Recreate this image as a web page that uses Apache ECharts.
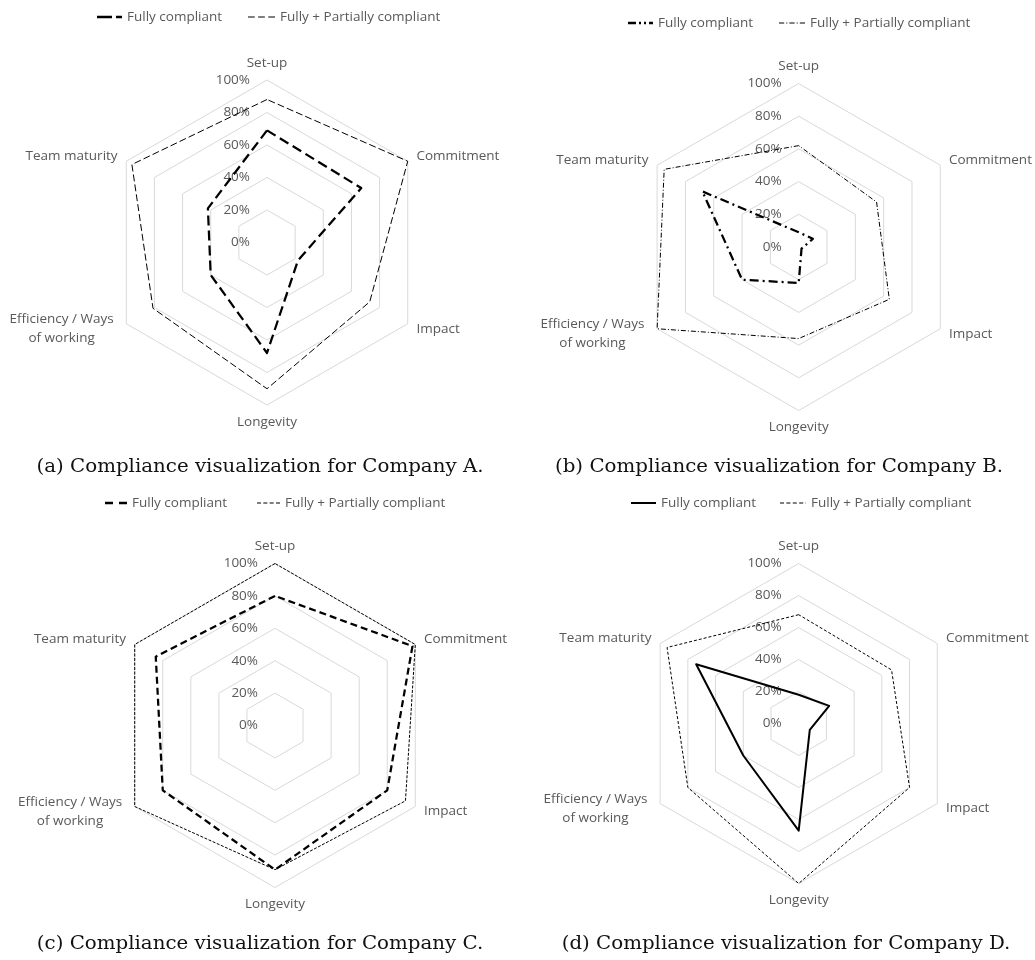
<!DOCTYPE html>
<html>
<head>
<meta charset="utf-8">
<script src="https://cdn.jsdelivr.net/npm/echarts@6/dist/echarts.min.js"></script>
<style>
  html, body { margin: 0; padding: 0; background: #fff; }
  #chart { width: 1035px; height: 960px; }
</style>
</head>
<body>
<div id="chart"></div>
<script>
// Dimensions, listed clockwise from the top
const categories = ['Set-up', 'Commitment', 'Impact', 'Longevity', 'Efficiency / Ways\nof working', 'Team maturity'];
const seriesNames = ['Fully compliant', 'Fully + Partially compliant'];
const scaleMax = 100;
const tickCount = 5; // 0%, 20%, ... 100%

// Compliance shares (%) per company
const companyA_full    = [69, 67, 22, 68, 40, 42];
const companyA_partial = [88, 100, 73, 90, 81, 96];
const companyB_full    = [9, 10, 2, 22, 40, 68];
const companyB_partial = [62, 55, 64, 56, 100, 95];
const companyC_full    = [80, 98, 80, 89, 80, 85];
const companyC_partial = [100, 100, 93, 89, 100, 100];
const companyD_full    = [18, 22, 8, 67, 40, 74];
const companyD_partial = [68, 67, 80, 100, 80, 95];

const captions = [
  '(a) Compliance visualization for Company A.',
  '(b) Compliance visualization for Company B.',
  '(c) Compliance visualization for Company C.',
  '(d) Compliance visualization for Company D.'
];

// ECharts places indicators counter-clockwise, so feed them in that order
const order = [0, 5, 4, 3, 2, 1];
const toRadarOrder = arr => order.map(i => arr[i]);

const GREY = '#595959';
const FONT = 'Open Sans';
const FS = 13.5;

// Legend swatch built from a dash pattern (filled rectangles)
function dashIcon(pattern, w, h) {
  if (!pattern) return 'rect';
  let x = 0, on = true, k = 0, d = '';
  while (x < w - 0.01) {
    const end = Math.min(x + pattern[k % pattern.length], w);
    if (on) d += 'M' + x + ',0L' + end + ',0L' + end + ',' + h + 'L' + x + ',' + h + 'Z';
    x = end; on = !on; k++;
  }
  return 'path://' + d;
}

const panels = [
  {
    full: companyA_full, partial: companyA_partial,
    center: [267, 242.5], radius: 162.5,
    fullLine: { width: 2.25, type: [10, 5] }, partialLine: { width: 1, type: [7, 3] },
    legendTop: 10,
    legend: [
      { left: 97, width: 25, height: 2.5, pattern: [15, 4, 6] },
      { left: 248, width: 27, height: 1, pattern: [6, 3] }
    ],
    caption: [260, 467]
  },
  {
    full: companyB_full, partial: companyB_partial,
    center: [798.7, 247], radius: 163.5,
    fullLine: { width: 2.25, type: [9, 4, 2, 4] }, partialLine: { width: 1, type: [5, 2, 1, 2] },
    legendTop: 16,
    legend: [
      { left: 628, width: 25, height: 2.5, pattern: [8, 3, 2, 3, 2, 3, 4] },
      { left: 779, width: 26, height: 1, pattern: [5, 2, 1, 2] }
    ],
    caption: [779, 467]
  },
  {
    full: companyC_full, partial: companyC_partial,
    center: [275, 725.5], radius: 162,
    fullLine: { width: 2.25, type: [7, 4] }, partialLine: { width: 1, type: [3, 1.5] },
    legendTop: 496,
    legend: [
      { left: 105, width: 22, height: 2.5, pattern: [8, 6, 8] },
      { left: 257, width: 23, height: 1, pattern: [4, 2.3] }
    ],
    caption: [260, 944]
  },
  {
    full: companyD_full, partial: companyD_partial,
    center: [798.7, 723.5], radius: 160,
    fullLine: { width: 2, type: 'solid' }, partialLine: { width: 1, type: [3, 2] },
    legendTop: 496,
    legend: [
      { left: 631, width: 25, height: 2, pattern: null },
      { left: 780, width: 26, height: 1, pattern: [4, 2.4] }
    ],
    caption: [786, 944]
  }
];

const chart = echarts.init(document.getElementById('chart'), null, { renderer: 'canvas' });

const option = {
  backgroundColor: '#fff',
  animation: false,
  radar: panels.map(p => ({
    center: p.center,
    radius: p.radius,
    startAngle: 90,
    shape: 'polygon',
    splitNumber: tickCount,
    axisNameGap: 10,
    indicator: order.map((i, k) => {
      const ind = { name: categories[i], min: 0, max: scaleMax };
      if (k === 0) ind.axisLabel = { show: true }; // value labels only on the Set-up spoke
      return ind;
    }),
    axisName: {
      color: GREY, fontSize: FS, fontFamily: FONT,
      formatter: name => name.indexOf('\n') >= 0
        ? name.split('\n').map(s => '{c|' + s + '}').join('\n')
        : name,
      rich: { c: { width: 112, align: 'center', color: GREY, fontSize: FS, fontFamily: FONT, lineHeight: 19 } }
    },
    axisLine: { show: false },
    axisTick: { show: false },
    axisLabel: { show: false, color: GREY, fontSize: FS, fontFamily: FONT, margin: 17, formatter: '{value}%' },
    splitLine: { lineStyle: { color: '#d9d9d9', width: 1 } },
    splitArea: { show: false }
  })),
  legend: panels.flatMap(p => p.legend.map((lg, j) => ({
    left: lg.left, top: p.legendTop, padding: 0,
    selectedMode: false,
    itemWidth: lg.width, itemHeight: lg.height,
    symbolKeepAspect: false,
    itemStyle: { color: '#000', borderWidth: 0 },
    textStyle: { color: GREY, fontSize: FS, fontFamily: FONT },
    data: [{ name: seriesNames[j], icon: dashIcon(lg.pattern, lg.width, lg.height) }]
  }))),
  series: panels.map((p, idx) => ({
    type: 'radar',
    radarIndex: idx,
    symbol: 'none',
    silent: true,
    data: [
      { name: seriesNames[1], value: toRadarOrder(p.partial),
        itemStyle: { color: '#000' }, lineStyle: Object.assign({ color: '#000' }, p.partialLine) },
      { name: seriesNames[0], value: toRadarOrder(p.full),
        itemStyle: { color: '#000' }, lineStyle: Object.assign({ color: '#000' }, p.fullLine) }
    ]
  })),
  // Figure captions, set in a wide serif
  graphic: panels.map((p, idx) => ({
    type: 'text',
    x: p.caption[0], y: p.caption[1],
    scaleX: 1.1,
    silent: true,
    style: {
      text: captions[idx],
      fill: '#111',
      font: '18px "DejaVu Serif"',
      align: 'center', verticalAlign: 'middle'
    }
  }))
};

chart.setOption(option);
</script>
</body>
</html>
